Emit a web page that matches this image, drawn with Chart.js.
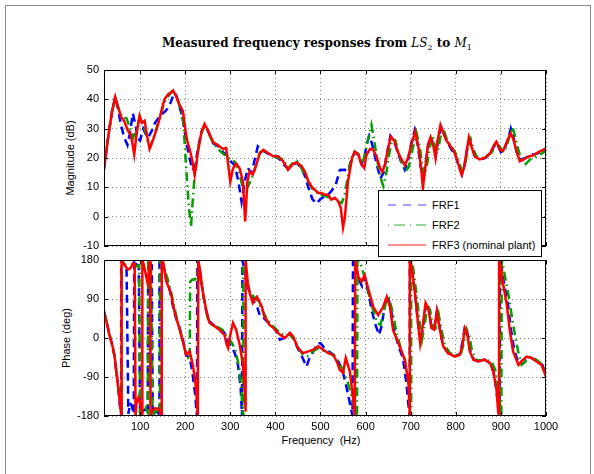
<!DOCTYPE html>
<html>
<head>
<meta charset="utf-8">
<script src="https://cdn.jsdelivr.net/npm/chart.js@4.4.1/dist/chart.umd.min.js"></script>
<style>
  html, body { margin: 0; padding: 0; background: #fff; }
  body { width: 594px; height: 474px; position: relative; overflow: hidden; font-family: "Liberation Sans", Arial, sans-serif; color: #000; }
  .marco { position: absolute; left: 5px; top: 5px; width: 584px; height: 540px; border: 1px solid #8a8a8a; }
  canvas { position: absolute; left: 0; }
  .titulo { position: absolute; left: 117px; width: 400px; top: 36px; text-align: center; font-family: "DejaVu Serif", serif; font-weight: bold; font-size: 12px; }
  .titulo i { font-weight: normal; }
  .titulo sub { font-size: 8px; font-weight: normal; }
  .ejeY { position: absolute; width: 200px; height: 14px; line-height: 14px; text-align: center; font-size: 11px; transform: rotate(-90deg); }
  .ejeX { position: absolute; left: 221px; width: 200px; top: 434px; text-align: center; font-size: 11px; white-space: pre; }
  .leyenda { position: absolute; left: 378px; top: 190px; width: 164px; height: 67px; box-sizing: border-box; border: 1px solid #000; background: #fff; }
  .fila { position: absolute; left: 8px; height: 14px; font-size: 11px; line-height: 14px; }
  .fila svg { position: absolute; left: 0; top: 2px; }
  .fila span { position: absolute; left: 45px; white-space: nowrap; }
</style>
</head>
<body>
<div class="marco"></div>
<div class="titulo">Measured frequency responses from <i>LS</i><sub>2</sub> to <i>M</i><sub>1</sub></div>
<div class="ejeY" style="left:-30px; top:151px;">Magnitude (dB)</div>
<div class="ejeY" style="left:-34px; top:331px;">Phase (deg)</div>
<div class="ejeX">Frequency  (Hz)</div>
<canvas id="graficoMagnitud" width="594" height="190" style="top:62px"></canvas>
<canvas id="graficoFase" width="594" height="222" style="top:252px"></canvas>
<div class="leyenda">
  <div class="fila" style="top:7px"><svg width="40" height="10"><line x1="1" y1="5" x2="39" y2="5" stroke="#4040ff" stroke-width="1.2" stroke-dasharray="8 7"/></svg><span>FRF1</span></div>
  <div class="fila" style="top:27px"><svg width="40" height="10"><line x1="1" y1="5" x2="39" y2="5" stroke="#30b030" stroke-width="1.2" stroke-dasharray="1 5 11 5"/></svg><span>FRF2</span></div>
  <div class="fila" style="top:47px"><svg width="40" height="10"><line x1="1" y1="5" x2="39" y2="5" stroke="#ff2020" stroke-width="1.2"/></svg><span>FRF3 (nominal plant)</span></div>
</div>
<script>
// Ejes
const xTicks = [100, 200, 300, 400, 500, 600, 700, 800, 900, 1000];
const magTicks = [-10, 0, 10, 20, 30, 40, 50];
const phaseTicks = [-180, -90, 0, 90, 180];
const serieNombres = ["FRF1", "FRF2", "FRF3 (nominal plant)"];

// Magnitud (dB) — pares [frecuencia Hz, valor]
const frf1Mag = [[20,16],[25,22],[30,28],[38,36],[45,40.8],[52,36],[58,31],[65,27],[72,24.4],[78,29],[84,35.2],[90,31],[95,26.5],[100,26],[107,30],[113,28],[118,27],[125,29],[133,32],[145,34.5],[155,35.8],[162,37],[168,39],[175,42],[180,41.5],[187,38],[195,33],[201,27],[208,21],[216,15.9],[222,17],[228,23],[236,29],[243,31],[251,29],[262,25],[273,24],[284,22],[292,21],[300,19],[310,17.5],[318,12],[325,5.1],[332,12],[339,16.6],[346,15],[352,18],[361,24],[368,23],[378,22],[390,21],[400,20.5],[410,19.5],[420,17.5],[428,16.5],[439,17.5],[447,18.5],[458,16.5],[465,14],[473,10],[482,6],[491,4.4],[500,6],[510,7],[517,7.5],[524,8.7],[534,11],[543,15.9],[554,16],[561,15.6],[569,19.4],[576,22],[584,21],[591,18],[597,20],[603,25],[608,27.5],[614,25],[620,21],[626,17],[633,13],[640,15],[648,22],[655,27.5],[664,25.5],[671,22],[678,19],[687,16],[694,19],[701,25],[709,29.5],[716,24],[722,17],[727,14],[733,18],[740,25],[746,27],[752,23],[756,21],[761,26],[767,30.5],[774,28],[781,25.5],[790,23],[800,20.5],[807,17],[814,14.5],[820,18],[826,24],[831,26],[837,23],[845,20.5],[855,19.5],[866,20],[878,22],[888,25],[894,24],[900,22],[908,23],[917,27],[922,30],[928,27],[935,22],[942,19.5],[952,19.8],[965,21],[980,21.5],[994,22.5],[1000,23]];
const frf2Mag = [[20,17],[25,22.5],[30,28],[38,36],[45,40.5],[52,37],[60,34],[70,33.5],[78,30],[85,27],[92,30],[99,34],[105,32],[112,29],[118,25],[122,23.7],[130,27],[138,31],[146,35],[154,39],[162,41],[170,42.5],[176,43],[182,40.5],[189,37],[196,32],[200,22],[205,10],[209,2],[213,-3.4],[216,4],[220,12],[225,19],[231,25],[238,29.5],[245,31],[252,28.5],[262,25],[273,23],[284,21.5],[295,20],[305,19.5],[313,18],[320,15],[326,11],[330,8.5],[336,9.5],[343,11.5],[350,14],[358,18],[366,22],[375,22.5],[386,21.5],[397,20.5],[408,20],[418,19.5],[428,16.5],[440,18.5],[448,19],[458,16.5],[466,14],[474,11.5],[482,9.5],[490,8.5],[500,7.5],[510,7],[520,6.5],[530,6],[540,5],[547,4.7],[553,7],[560,13],[567,19.5],[575,22],[584,21.5],[592,18],[598,21],[605,26],[613,31.3],[619,26],[625,20],[632,14],[639,10.5],[645,14],[652,21],[659,26.5],[666,26],[673,22],[681,18],[689,15.5],[696,17],[704,23],[713,28.5],[720,24],[726,17],[730,14],[736,17.5],[743,24],[749,27.5],[755,23],[760,22],[767,28],[772,30],[780,26.5],[792,23.5],[800,21.5],[808,18],[815,15],[822,19],[828,24.5],[833,26.5],[840,22.5],[848,20],[858,20],[868,20.5],[880,22],[890,25],[897,24],[905,22],[913,24],[920,28],[926,30.5],[932,27],[940,22],[947,19.5],[955,18],[965,19.5],[978,20.5],[990,21.5],[1000,22.5]];
const frf3Mag = [[20,16.5],[25,22],[30,28],[38,36],[45,40.8],[52,37],[58,34],[65,32.5],[73,29.3],[78,28.5],[83,25],[87,21.2],[92,28],[99,34.4],[104,32],[110,32.7],[115,28],[121,23.1],[126,25],[132,27.6],[138,30.5],[143,33.3],[148,36.5],[154,40],[162,41.7],[167,42.2],[173,43],[180,41],[187,38.3],[195,36],[201,29],[205,25.5],[210,23],[216,19],[221,14.2],[225,18],[228,22],[236,28.8],[243,31.6],[251,29.3],[262,25.4],[273,24.3],[284,23.1],[291,23.4],[300,11.9],[306,16.4],[313,18.1],[321,16.4],[328,11.9],[333,-1.6],[338,12],[343,15.5],[350,14.4],[358,17.8],[365,21.5],[373,22.8],[384,21.7],[395,20.6],[406,20.6],[417,18.9],[428,16],[439,18],[447,18.5],[458,17.2],[465,15.5],[473,12.1],[480,10.3],[487,9.2],[495,8.1],[502,8.1],[510,7.5],[517,7.5],[524,5.8],[532,6.4],[539,5.3],[545,3],[550,-3.7],[554,-0.3],[561,12.1],[570,20],[576,22.2],[584,21.1],[591,17.8],[597,16.6],[602,21.1],[610,23.1],[617,22.8],[624,20.6],[632,16.6],[637,15.2],[643,17.8],[650,23.4],[656,27.3],[664,25.8],[671,22.2],[676,20.6],[687,17.5],[694,20],[701,24.3],[710,29],[718,23],[724,15.3],[727,9.8],[733,17.5],[738,24.3],[744,27.1],[750,24.3],[755,20],[759,25.4],[766,31.3],[772,28.8],[779,26],[790,23.7],[798,21.5],[805,18.2],[813,14.3],[818,16.5],[824,22.3],[829,27],[835,23.7],[842,20.5],[853,19.5],[864,20],[876,21.6],[887,25],[890,25.6],[898,22.8],[905,22.4],[915,26.2],[922,28.4],[928,26.2],[935,22.2],[942,18.9],[950,19.4],[961,20.5],[972,20.9],[983,22],[994,22.8],[1000,23.4]];

// Fase (deg) — pares [frecuencia Hz, valor]
const frf1Phase = [[20,62],[25,42],[32,8],[38,-15],[43,-40],[50,-100],[55,-155],[58,-180],[58,180],[64,170],[70,162],[74,-175],[78,-150],[82,-158],[86,-175],[87,180],[92,170],[97,165],[100,-180],[106,-168],[112,-165],[117,-175],[118,180],[122,172],[126,168],[128,-180],[134,-170],[140,-172],[143,-180],[143,180],[150,170],[158,135],[166,110],[173,72],[180,45],[187,25],[195,-5],[202,-40],[210,-45],[216,-80],[222,-130],[226,-180],[227,180],[232,160],[239,105],[247,60],[254,38],[265,28],[276,22],[287,12],[296,-10],[303,-20],[310,-35],[317,-62],[323,-115],[326,-180],[327,180],[333,150],[339,117],[345,100],[352,85],[360,70],[366,50],[372,48],[380,40],[390,30],[400,20],[410,-4],[420,0],[432,10],[440,0],[450,-25],[460,-45],[469,-66],[476,-45],[485,-30],[493,-12],[500,-12],[508,-22],[517,-30],[528,-38],[540,-55],[550,-80],[558,-115],[565,-150],[570,-175],[571,-180],[572,180],[578,165],[585,135],[592,120],[598,140],[606,105],[614,62],[622,30],[630,7],[636,30],[643,80],[649,95],[656,70],[663,20],[672,-15],[683,-48],[690,-100],[696,-165],[698,-180],[698,180],[702,165],[710,100],[716,35],[722,-10],[728,30],[734,80],[740,70],[746,25],[752,20],[758,60],[764,25],[772,-18],[783,-35],[798,-42],[808,-38],[815,-10],[820,25],[826,10],[832,-30],[840,-50],[850,-54],[864,-50],[876,-58],[884,-80],[890,-120],[895,-170],[897,-180],[898,180],[902,160],[908,120],[916,75],[923,15],[930,-30],[940,-60],[948,-52],[958,-44],[970,-47],[982,-55],[992,-62],[1000,-85]];
const frf2Phase = [[20,58],[25,40],[32,8],[38,-15],[43,-40],[50,-100],[56,-155],[59,-180],[59,180],[66,170],[74,162],[82,160],[90,165],[98,168],[100,-180],[106,-165],[112,-160],[117,-172],[118,180],[124,168],[128,-180],[134,-168],[140,-170],[144,-180],[144,180],[152,165],[160,140],[168,110],[176,70],[184,35],[192,5],[200,-30],[205,-45],[210,-50],[211,130],[216,135],[222,135],[226,150],[230,150],[236,125],[243,80],[250,45],[260,30],[272,25],[284,18],[295,0],[303,-10],[312,-30],[320,-70],[325,-120],[328,-175],[329,-180],[329,165],[335,130],[343,108],[352,95],[360,88],[368,70],[378,50],[390,32],[400,22],[410,12],[422,5],[432,8],[442,-5],[452,-25],[462,-40],[472,-42],[482,-32],[492,-25],[500,-28],[510,-30],[520,-35],[530,-40],[540,-55],[550,-75],[560,-100],[570,-140],[578,-175],[581,-180],[582,180],[588,175],[595,150],[602,125],[610,90],[618,60],[626,35],[633,30],[640,60],[647,90],[652,92],[660,60],[668,15],[677,-20],[687,-50],[694,-100],[699,-165],[701,-180],[701,180],[705,165],[713,100],[720,35],[725,-5],[731,30],[737,75],[743,65],[749,25],[755,22],[762,55],[768,20],[776,-18],[787,-35],[800,-40],[812,-35],[818,-10],[824,20],[830,5],[836,-30],[845,-50],[856,-52],[868,-50],[880,-56],[888,-75],[895,-115],[899,-165],[901,-180],[902,180],[906,160],[912,125],[918,93],[925,45],[931,8],[938,-30],[946,-62],[954,-55],[965,-44],[976,-48],[988,-58],[1000,-80]];
const frf3Phase = [[20,58],[25,40],[32,7],[38,-15],[43,-39],[50,-101],[56,-155],[59,-180],[59,180],[63,172],[68,165],[73,158],[77,160],[80,163],[84,172],[88,170],[90,-180],[92,-150],[96,-138],[100,-150],[103,-165],[105,-180],[105,180],[108,170],[112,150],[116,130],[119,150],[121,175],[122,180],[123,-180],[127,-168],[133,-162],[140,-163],[145,-172],[147,-180],[148,180],[152,172],[158,131],[164,115],[169,100],[176,62],[182,40],[187,23],[195,-8],[202,-39],[206,-35],[210,-31],[217,-62],[221,-90],[224,-116],[227,-165],[228,-180],[229,180],[232,162],[239,108],[247,62],[254,35],[265,27],[276,19],[287,7],[292,-15],[295,-23],[300,7],[306,35],[313,19],[321,-16],[328,-62],[332,-120],[334,-170],[334,178],[339,127],[344,100],[350,81],[355,90],[359,95],[364,85],[370,72],[376,48],[381,42],[387,30],[395,24],[399,19],[410,8],[421,0],[432,12],[439,4],[450,-23],[461,-35],[473,-31],[484,-27],[495,-19],[506,-27],[517,-35],[528,-39],[536,-54],[543,-74],[550,-80],[556,-46],[565,-77],[572,-136],[576,-180],[577,180],[584,141],[591,130],[598,145],[605,117],[617,72],[628,53],[639,72],[647,95],[654,72],[661,18],[676,-20],[687,-51],[695,-103],[698,-180],[698,180],[701,170],[709,108],[716,38],[721,-12],[727,31],[733,81],[739,69],[746,23],[752,19],[758,62],[764,23],[772,-19],[783,-35],[798,-43],[809,-39],[815,-15],[820,23],[825,12],[831,-31],[839,-50],[850,-54],[864,-50],[876,-58],[883,-77],[890,-116],[894,-170],[896,-180],[896,180],[900,162],[905,124],[913,77],[920,15],[927,-31],[939,-62],[946,-54],[957,-43],[968,-46],[979,-54],[990,-62],[1000,-89]];

const aPuntos = pares => pares.map(([x, y]) => ({ x, y }));

// Marco negro y marcas de escala hacia dentro (estilo MATLAB)
const marcoEjes = {
    id: 'marcoEjes',
    afterDraw(chart) {
        const { ctx, chartArea: a, scales } = chart;
        ctx.save();
        ctx.strokeStyle = '#000';
        ctx.lineWidth = 1;
        ctx.beginPath();
        scales.x.ticks.forEach(t => {
            const px = Math.round(scales.x.getPixelForValue(t.value)) + 0.5;
            ctx.moveTo(px, a.top); ctx.lineTo(px, a.top + 4);
            ctx.moveTo(px, a.bottom); ctx.lineTo(px, a.bottom - 4);
        });
        scales.y.ticks.forEach(t => {
            const py = Math.round(scales.y.getPixelForValue(t.value)) + 0.5;
            ctx.moveTo(a.left, py); ctx.lineTo(a.left + 4, py);
            ctx.moveTo(a.right, py); ctx.lineTo(a.right - 4, py);
        });
        ctx.stroke();
        ctx.strokeRect(a.left + 0.5, a.top + 0.5, a.right - a.left - 1, a.bottom - a.top - 1);
        ctx.restore();
    }
};

const fuenteEjes = { family: '"Liberation Sans", Arial, sans-serif', size: 11 };

function series(frf1, frf2, frf3) {
    return [
        { label: serieNombres[2], data: aPuntos(frf3), borderColor: '#ff0000', borderWidth: 2.5, order: 0 },
        { label: serieNombres[1], data: aPuntos(frf2), borderColor: '#00a000', borderWidth: 2.5, borderDash: [9, 4, 1.5, 4], order: 1 },
        { label: serieNombres[0], data: aPuntos(frf1), borderColor: '#0000ff', borderWidth: 2.5, borderDash: [8, 5], order: 2 }
    ];
}

function opciones(yMin, yMax, yTicks, conEtiquetasX) {
    return {
        responsive: false,
        animation: false,
        devicePixelRatio: 1,
        layout: { padding: { top: 8, right: 48, bottom: conEtiquetasX ? 0 : 6, left: 0 } },
        elements: { point: { radius: 0 }, line: { tension: 0, fill: false } },
        plugins: { legend: { display: false }, tooltip: { enabled: false } },
        scales: {
            x: {
                type: 'linear', min: 20, max: 1000,
                afterBuildTicks: s => { s.ticks = xTicks.map(v => ({ value: v })); },
                afterFit: s => { s.height = conEtiquetasX ? 58 : 0; s.paddingLeft = 0; s.paddingRight = 0; },
                grid: { color: '#8c8c8c', lineWidth: 1, drawTicks: false },
                border: { display: false, dash: [1, 3] },
                ticks: { display: conEtiquetasX, padding: 4, maxRotation: 0, autoSkip: false, color: '#000', font: fuenteEjes, callback: v => String(v) }
            },
            y: {
                type: 'linear', min: yMin, max: yMax,
                afterBuildTicks: s => { s.ticks = yTicks.map(v => ({ value: v })); },
                afterFit: s => { s.width = 104; s.paddingTop = 0; s.paddingBottom = 0; },
                grid: { color: '#8c8c8c', lineWidth: 1, drawTicks: false },
                border: { display: false, dash: [1, 3] },
                ticks: { padding: 5, color: '#000', font: fuenteEjes, callback: v => String(v) }
            }
        }
    };
}

new Chart(document.getElementById('graficoMagnitud'), {
    type: 'line',
    data: { datasets: series(frf1Mag, frf2Mag, frf3Mag) },
    options: opciones(-10, 50, magTicks, false),
    plugins: [marcoEjes]
});

new Chart(document.getElementById('graficoFase'), {
    type: 'line',
    data: { datasets: series(frf1Phase, frf2Phase, frf3Phase) },
    options: opciones(-180, 180, phaseTicks, true),
    plugins: [marcoEjes]
});
</script>
</body>
</html>
